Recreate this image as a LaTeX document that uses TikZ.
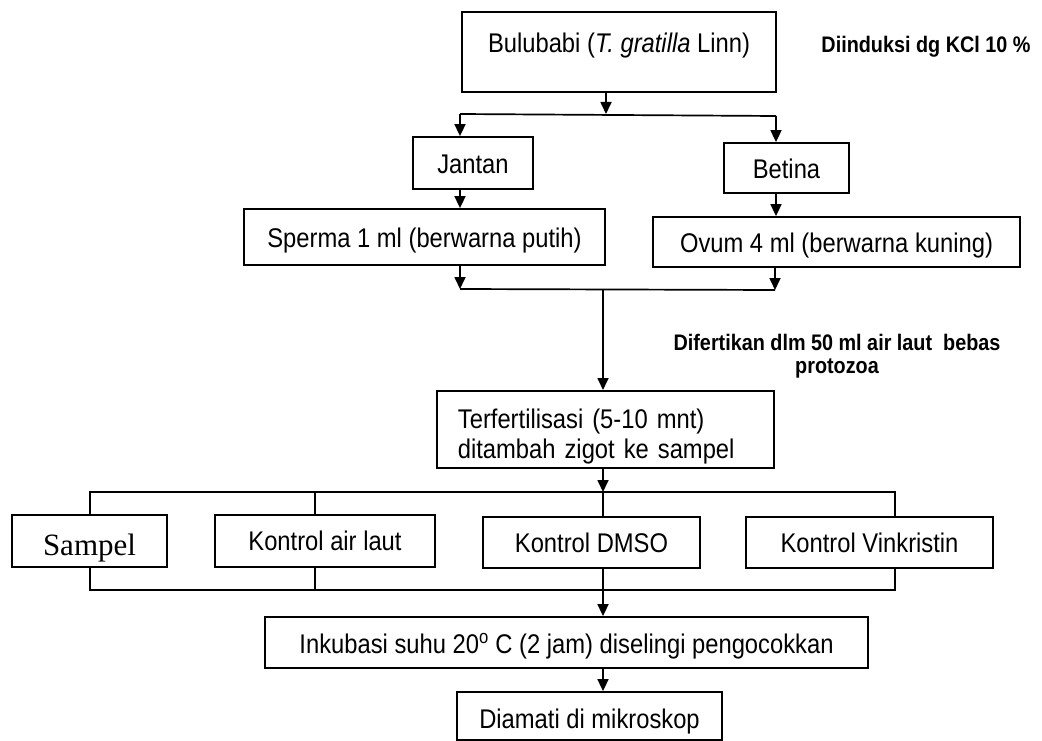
\documentclass[tikz,border=0pt]{standalone}
\usepackage{fontspec}
\setmainfont{Liberation Sans}[FakeStretch=0.88]
\newfontfamily\serifx{Liberation Serif}
\usetikzlibrary{arrows.meta}
\begin{document}
\begin{tikzpicture}[x=1pt,y=-1pt,
  box/.style={draw, line width=1.8pt, fill=white, inner sep=0pt,
    text height=21pt, text depth=0pt, font=\fontsize{27}{30}\selectfont},
  arr/.style={line width=1.7pt, -{Triangle[length=12pt,width=11pt]}},
  ln/.style={line width=1.7pt},
  lbl/.style={font=\bfseries\fontsize{22.5}{23}\selectfont, align=center}]
\useasboundingbox (0,0) rectangle (1042,741);
\fill[white] (0,0) rectangle (1042,741);

% junction coordinates
\coordinate (j1) at (606,114);
\coordinate (jl) at (460,114);
\coordinate (jr) at (776,116);
\coordinate (ml) at (460,289);
\coordinate (mr) at (775,290);
\coordinate (mc) at (603,289);
\coordinate (bt) at (603,492);
\coordinate (bb) at (603,590);
\coordinate (b1) at (90,492);
\coordinate (b2) at (895,492);
\coordinate (b3) at (895,590);
\coordinate (b4) at (90,590);
\coordinate (v1) at (315,492);
\coordinate (v2) at (315,590);

% bracket behind the row of boxes
\draw[ln] (b1) -- (b2) -- (b3) -- (b4) -- cycle;
\draw[ln] (v1) -- (v2);

% nodes
\node[box, minimum width=314pt, text height=41pt, text depth=39pt] (bulu) at (619,52)
  {Bulubabi (\textit{T. gratilla} Linn)};
\node[box, minimum width=120pt, minimum height=52pt] (jantan) at (473,163) {Jantan};
\node[box, minimum width=125pt, minimum height=50pt] (betina) at (786.5,168) {Betina};
\node[box, minimum width=361pt, minimum height=56pt] (sperma) at (424.5,237) {Sperma 1 ml (berwarna putih)};
\node[box, minimum width=367pt, minimum height=50pt] (ovum) at (836.5,242) {Ovum 4 ml (berwarna kuning)};
\node[box, anchor=north west, inner xsep=21pt, text width=295pt, align=left,
  text height=, text depth=] (terf) at (436,390)
  {\rule{0pt}{38pt}Terfertilisasi (5-10 mnt)\\ditambah zigot ke sampel\rule[-9pt]{0pt}{9pt}};
\node[box, minimum width=155pt, minimum height=52pt, text height=28pt,
  font=\serifx\fontsize{31}{34}\selectfont] (sampel) at (89.5,541) {Sampel};
\node[box, minimum width=220pt, minimum height=52pt, text height=19pt] (air) at (325,541) {Kontrol air laut};
\node[box, minimum width=217pt, minimum height=51pt, text height=19pt] (dmso) at (591.5,542.5) {Kontrol DMSO};
\node[box, minimum width=247pt, minimum height=51pt, text height=19pt] (vink) at (869.5,542.5) {Kontrol Vinkristin};
\node[box, minimum width=603pt, minimum height=51pt] (inku) at (566.5,642.5)
  {Inkubasi suhu 20\textsuperscript{o} C (2 jam) diselingi pengocokkan};
\node[box, minimum width=265pt, minimum height=48pt, text height=25pt] (diam) at (589.5,716) {Diamati di mikroskop};

\node[lbl] (kcl) at (926,47) {Diinduksi dg KCl 10 \%};
\node[lbl] (dif) at (837,356) {Difertikan dlm 50 ml air laut\ \ bebas\\protozoa};

% connectors
\draw[arr] (bulu.south -| j1) -- (j1);
\draw[ln] (jl) -- (jr);
\draw[arr] (jl) -- (jantan.north -| jl);
\draw[arr] (jr) -- (betina.north -| jr);
\draw[arr] (jantan.south -| jl) -- (sperma.north -| jl);
\draw[arr] (betina.south -| jr) -- (ovum.north -| jr);
\draw[arr] (sperma.south -| ml) -- (ml);
\draw[arr] (ovum.south -| mr) -- (mr);
\draw[ln] (ml) -- (mr);
\draw[arr] (mc) -- (terf.north -| mc);
\draw[arr] (terf.south -| bt) -- (bt);
\draw[ln] (bt) -- (dmso.north -| bt);
\draw[ln] (dmso.south -| bb) -- (bb);
\draw[arr] (bb) -- (inku.north -| bb);
\draw[arr] (inku.south -| bb) -- (diam.north -| bb);
\end{tikzpicture}
\end{document}
